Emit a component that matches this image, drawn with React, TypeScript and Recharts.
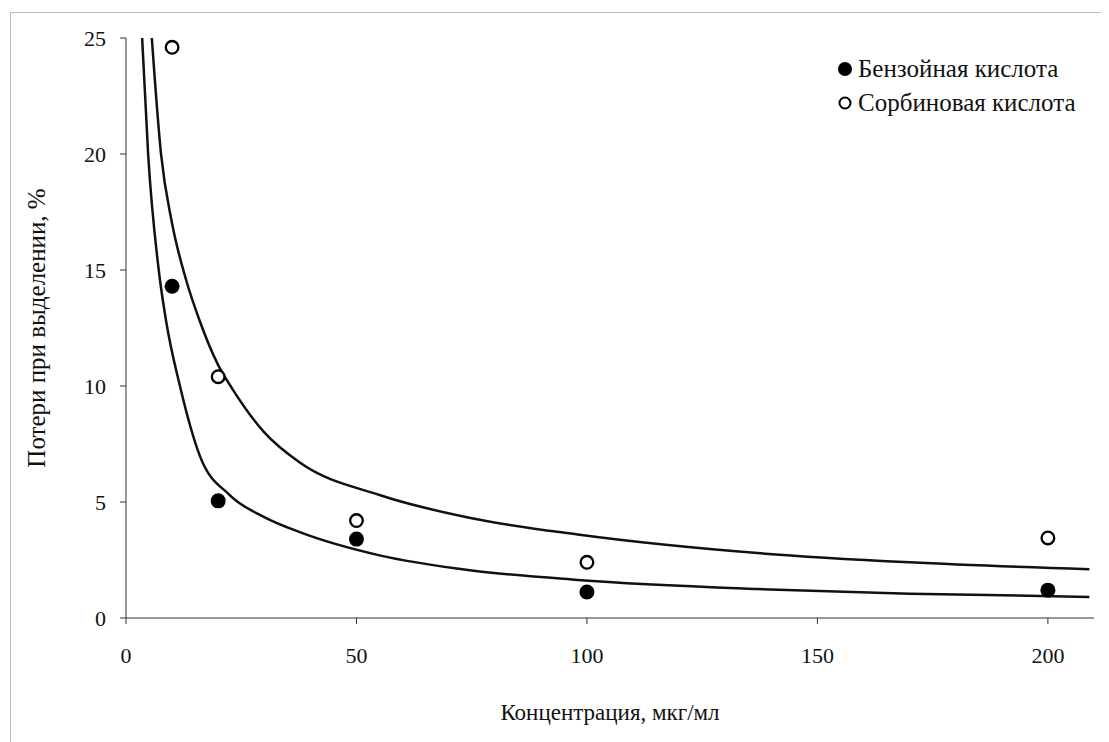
import React from "react";
import { ComposedChart, Line, Scatter, XAxis, YAxis, Label } from "recharts";

const concentrations = [10, 20, 50, 100, 200];
const benzoicValues = [14.3, 5.05, 3.4, 1.12, 1.2];
const sorbicValues = [24.6, 10.4, 4.2, 2.4, 3.45];

const benzoicFitX = [3.5, 4.8, 7.1, 8.7, 11.7, 16, 22.5, 30, 37.7, 55, 75, 98, 137, 170, 209];
const benzoicFitY = [25, 20, 15, 12.8, 10, 7.0, 5.3, 4.35, 3.7, 2.7, 2.05, 1.64, 1.25, 1.05, 0.91];
const sorbicFitX = [5.6, 7.6, 10, 13, 16, 20, 23, 30, 37.7, 55, 75, 98, 137, 170, 209];
const sorbicFitY = [25, 20, 17.0, 14.6, 12.8, 10.9, 9.9, 8.0, 6.7, 5.3, 4.3, 3.6, 2.8, 2.4, 2.1];

const xTicks = [0, 50, 100, 150, 200];
const yTicks = [0, 5, 10, 15, 20, 25];

const seriesNames = ["Бензойная кислота", "Сорбиновая кислота"];
const xTitle = "Концентрация, мкг/мл";
const yTitle = "Потери при выделении, %";

const benzoicPoints = concentrations.map((x, i) => ({ x, y: benzoicValues[i] }));
const sorbicPoints = concentrations.map((x, i) => ({ x, y: sorbicValues[i] }));
const benzoicFit = benzoicFitX.map((x, i) => ({ x, y: benzoicFitY[i] }));
const sorbicFit = sorbicFitX.map((x, i) => ({ x, y: sorbicFitY[i] }));

const FONT = '"Liberation Serif", "DejaVu Serif", serif';

const FilledDot = (props: any) => (
  <circle cx={props.cx} cy={props.cy} r={7.5} fill="#000" stroke="none" />
);
const OpenDot = (props: any) => (
  <circle cx={props.cx} cy={props.cy} r={6.3} fill="#fff" stroke="#000" strokeWidth={2.3} />
);

const LegendBox = () => (
  <div
    style={{
      position: "absolute",
      left: 828,
      top: 44,
      fontFamily: FONT,
      fontSize: 25,
      color: "#111",
      lineHeight: "34px",
    }}
  >
    {seriesNames.map((name, i) => (
      <div key={name} style={{ display: "flex", alignItems: "center" }}>
        <svg width={18} height={18} style={{ marginRight: 4 }}>
          {i === 0 ? (
            <circle cx={9} cy={9} r={7} fill="#000" />
          ) : (
            <circle cx={9} cy={9} r={5.5} fill="#fff" stroke="#000" strokeWidth={2} />
          )}
        </svg>
        <span>{name}</span>
      </div>
    ))}
  </div>
);

export default function App() {
  return (
    <div style={{ position: "relative", width: 1101, height: 734, background: "#fff" }}>
      <div
        style={{
          position: "absolute",
          left: 2,
          top: 4,
          width: 1100,
          height: 740,
          borderLeft: "1px solid #bbb",
          borderTop: "1px solid #bbb",
          pointerEvents: "none",
        }}
      />
      <ComposedChart
        width={1101}
        height={734}
        margin={{ top: 30, right: 15, bottom: 20, left: 6 }}
        style={{ fontFamily: FONT }}
      >
        <XAxis
          type="number"
          dataKey="x"
          domain={[0, 210]}
          ticks={xTicks}
          allowDataOverflow
          height={104}
          stroke="#333"
          tickSize={6}
          tickMargin={23}
          tick={{ fill: "#111", fontSize: 22, fontFamily: FONT }}
        >
          <Label
            value={xTitle}
            position="insideBottom"
            offset={2}
            style={{ fill: "#111", fontSize: 23, fontFamily: FONT }}
          />
        </XAxis>
        <YAxis
          type="number"
          dataKey="y"
          domain={[0, 25]}
          ticks={yTicks}
          allowDataOverflow
          width={112}
          stroke="#333"
          tickSize={6}
          tickMargin={14}
          tick={{ fill: "#111", fontSize: 22, fontFamily: FONT }}
        >
          <Label
            value={yTitle}
            angle={-90}
            position="insideLeft"
            offset={22}
            style={{ fill: "#111", fontSize: 25, fontFamily: FONT, textAnchor: "middle" }}
          />
        </YAxis>
        <Line
          data={benzoicFit}
          dataKey="y"
          type="monotone"
          stroke="#111"
          strokeWidth={2.5}
          dot={false}
          activeDot={false}
          legendType="none"
          isAnimationActive={false}
        />
        <Line
          data={sorbicFit}
          dataKey="y"
          type="monotone"
          stroke="#111"
          strokeWidth={2.5}
          dot={false}
          activeDot={false}
          legendType="none"
          isAnimationActive={false}
        />
        <Scatter
          name={seriesNames[0]}
          data={benzoicPoints}
          dataKey="y"
          shape={FilledDot}
          isAnimationActive={false}
        />
        <Scatter
          name={seriesNames[1]}
          data={sorbicPoints}
          dataKey="y"
          shape={OpenDot}
          isAnimationActive={false}
        />
      </ComposedChart>
      <LegendBox />
    </div>
  );
}
